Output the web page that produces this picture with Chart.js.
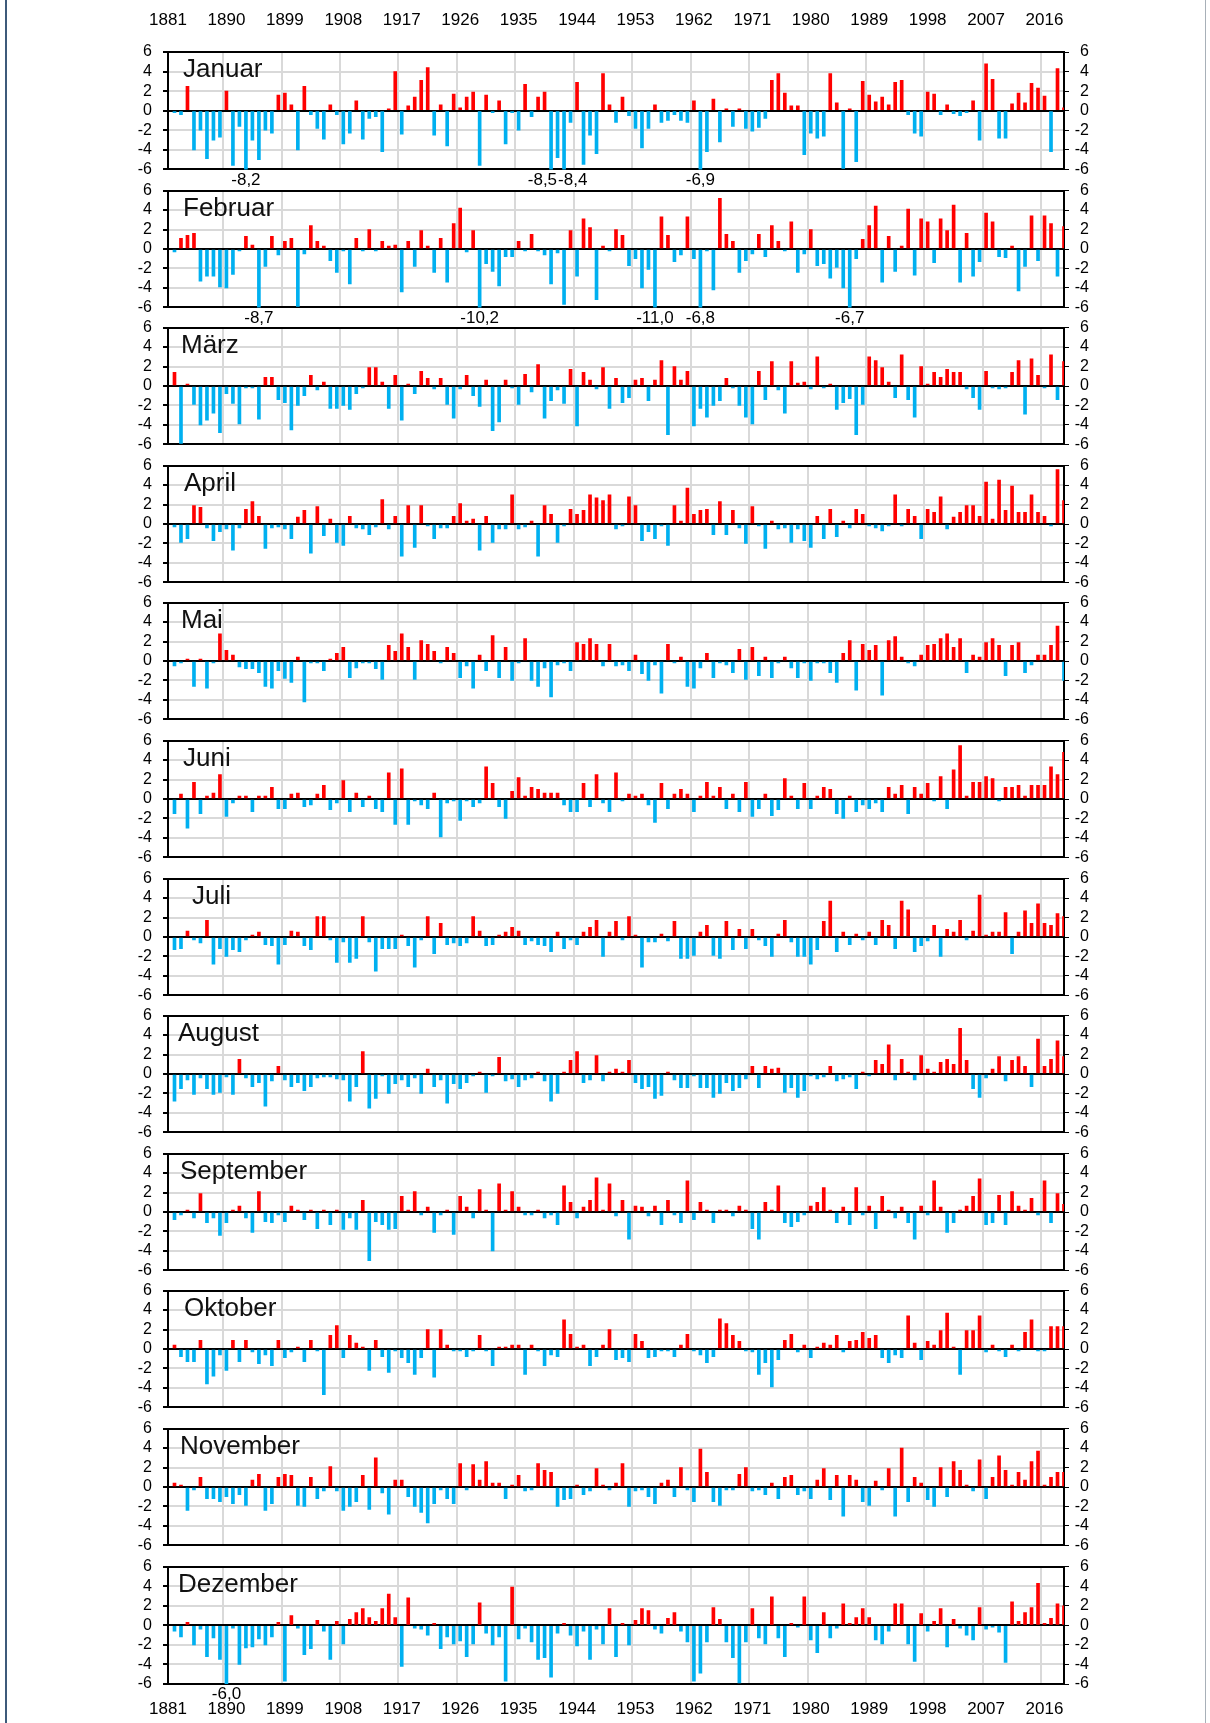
<!DOCTYPE html>
<html lang="de">

<head>
    <meta charset="UTF-8">
    <title>Abweichungen der Monatsmitteltemperatur</title>
    <script src="https://cdn.jsdelivr.net/npm/chart.js"></script>
    <style>
        html, body { margin: 0; padding: 0; background: #fff; }
        #page { position: relative; width: 1210px; height: 1723px; overflow: hidden; background: #fff; }
        #frame { position: absolute; left: 5px; top: 0; width: 1201px; height: 1723px;
                 border-left: 2px solid #3d5a7a; border-right: 1px solid #a8b0b8; box-sizing: border-box; }
        canvas { position: absolute; left: 0; }
    </style>
</head>

<body>
    <div id="page"><div id="frame"></div></div>

    <script>
        // Jahre 1881 - 2019 (Kategorien der x-Achse)
        const years = [];
        for (let y = 1881; y <= 2019; y++) years.push(y);

        // Abweichungen in K, ein Wert je Jahr (1881 ohne Balken)
        const jan = [null, -0.2, -0.4, 2.5, -4.0, -2.0, -4.9, -3.0, -2.7, 2.0, -5.6,
            -1.6, -8.2, -3.0, -5.0, -2.0, -2.3, 1.6, 1.8, 0.6, -4.0,
            2.5, -0.4, -1.8, -2.9, 0.6, -0.4, -3.4, -2.3, 1.0, -2.9,
            -0.8, -0.6, -4.2, 0.2, 4.0, -2.4, 0.5, 1.4, 3.1, 4.4,
            -2.5, 0.6, -3.6, 1.7, 0.3, 1.4, 1.9, -5.6, 1.6, -0.2,
            1.0, -3.4, -0.2, -2.0, 2.7, -0.6, 1.4, 1.9, -8.5, -4.8,
            -8.4, -1.2, 2.9, -5.5, -2.5, -4.4, 3.8, 0.6, -1.2, 1.4,
            -0.5, -1.8, -3.8, -1.8, 0.6, -1.2, -1.0, -0.4, -1.0, -1.2,
            1.0, -6.9, -4.2, 1.2, -3.2, 0.2, -1.6, 0.2, -1.8, -2.1,
            -1.7, -0.8, 3.1, 3.8, 1.8, 0.5, 0.5, -4.5, -2.3, -2.8,
            -2.6, 3.8, 0.8, -5.9, 0.2, -5.2, 3.0, 1.6, 0.9, 1.4,
            0.6, 2.9, 3.1, -0.4, -2.3, -2.6, 1.9, 1.7, -0.4, 0.6,
            -0.3, -0.5, -0.2, 1.0, -3.0, 4.8, 3.2, -2.8, -2.8, 0.7,
            1.8, 0.8, 2.8, 2.3, 1.5, -4.2, 4.3, 0.3];

        const feb = [null, -0.3, 1.1, 1.4, 1.6, -3.3, -2.8, -2.8, -3.9, -4.0, -2.6,
            -0.2, 1.3, 0.4, -8.7, -1.8, 1.3, -0.6, 0.8, 1.1, -5.9,
            -0.5, 2.4, 0.8, 0.3, -1.2, -2.4, -0.2, -3.6, 1.1, -0.2,
            2.0, -0.2, 0.8, 0.3, 0.4, -4.4, 0.8, -1.8, 1.9, 0.3,
            -2.4, 1.1, -3.4, 2.6, 4.2, -0.3, 1.9, -10.2, -1.5, -2.3,
            -3.8, -0.8, -0.8, 0.8, -0.2, 1.5, -0.2, -0.6, -3.6, -0.4,
            -5.7, 1.9, -2.8, 3.1, 2.2, -5.2, 0.3, -0.2, 2.0, 1.4,
            -1.7, -1.0, -4.0, -2.1, -11.0, 3.3, 1.4, -1.3, -0.6, 3.3,
            -1.0, -6.8, -0.2, -4.2, 5.2, 1.5, 0.8, -2.4, -1.2, -0.5,
            1.5, -0.8, 2.4, 0.8, -0.2, 2.8, -2.4, -0.5, 2.0, -1.7,
            -1.5, -3.0, -1.9, -4.0, -6.7, -1.0, 1.0, 2.4, 4.4, -3.4,
            1.3, -2.3, 0.3, 4.1, -2.7, 3.1, 2.8, -1.4, 3.1, 1.9,
            4.5, -3.4, 1.6, -2.8, -1.3, 3.7, 2.8, -0.8, -0.9, 0.3,
            -4.3, -1.8, 3.4, -1.2, 3.4, 2.6, -2.8, 2.3];

        const mar = [null, 1.4, -5.9, 0.2, -1.9, -4.0, -3.5, -2.8, -4.8, -0.8, -1.8,
            -3.9, -0.2, -0.2, -3.4, 0.9, 0.9, -1.4, -1.7, -4.5, -2.0,
            -1.0, 1.1, -0.4, 0.4, -2.3, -2.3, -2.0, -2.4, -0.8, -0.2,
            1.9, 1.9, 0.4, -2.3, 1.1, -3.5, 0.2, -0.8, 1.5, 0.8,
            -0.3, 0.8, -1.9, -3.3, -0.3, 1.1, -1.0, -2.1, 0.6, -4.6,
            -3.7, 0.6, -0.2, -1.9, 1.2, -0.6, 2.2, -3.3, -1.5, -0.4,
            -1.8, 1.7, -4.1, 1.4, 0.6, -0.3, 1.9, -2.3, 0.8, -1.7,
            -1.2, 0.6, 0.8, -1.5, 0.6, 2.6, -5.0, 2.0, 0.6, 1.5,
            -4.1, -2.3, -3.2, -2.0, -1.5, 0.8, -0.2, -2.0, -3.2, -3.9,
            1.5, -1.4, 2.5, -0.4, -2.8, 2.5, 0.3, 0.4, -0.3, 3.0,
            -0.2, 0.2, -2.4, -1.7, -1.3, -5.0, -1.9, 3.0, 2.6, 1.9,
            0.4, -1.2, 3.2, -1.4, -3.2, 2.0, 0.2, 1.4, 0.9, 1.7,
            1.4, 1.4, -0.3, -1.2, -2.4, 1.5, -0.2, -0.3, -0.2, 1.4,
            2.6, -2.9, 2.8, 1.1, -0.2, 3.2, -1.4, 2.5];

        const apr = [null, -0.3, -1.9, -1.5, 1.9, 1.7, -0.4, -1.7, -0.8, -0.5, -2.7,
            -0.4, 1.5, 2.3, 0.8, -2.5, -0.4, -0.3, -0.5, -1.5, 0.7,
            1.4, -3.0, 1.8, -1.2, 0.5, -1.9, -2.2, 0.8, -0.4, -0.5,
            -1.1, -0.3, 2.5, -0.5, 0.8, -3.3, 1.9, -2.4, 1.9, -0.2,
            -1.5, -0.4, -0.4, 0.8, 2.1, 0.3, 0.5, -2.7, 0.8, -1.9,
            -0.5, -0.5, 3.0, -0.5, -0.3, 0.3, -3.3, 1.9, 1.0, -1.9,
            -0.2, 1.5, 1.0, 1.4, 3.0, 2.7, 2.4, 3.0, -0.5, -0.2,
            2.8, 1.9, -1.7, -0.8, -1.5, -0.2, -2.2, 1.9, 0.3, 3.7,
            1.0, 1.4, 1.5, -1.1, 2.3, -1.1, 1.4, -0.4, -2.0, 1.8,
            -0.2, -2.5, 0.3, -0.5, -0.4, -1.9, -0.5, -1.7, -2.4, 0.8,
            -1.5, 1.5, -1.3, 0.3, -0.4, 1.5, 1.0, -0.2, -0.4, -0.7,
            -0.2, 3.0, -0.2, 1.5, 0.8, -1.5, 1.5, 1.2, 2.8, -0.5,
            0.7, 1.2, 1.9, 1.9, 0.8, 4.3, 0.5, 4.5, 1.4, 3.9,
            1.2, 1.2, 3.0, 1.2, 0.8, -0.2, 5.6, 2.4];

        const mai = [null, -0.5, -0.2, 0.2, -2.6, 0.2, -2.8, -0.2, 2.8, 1.1, 0.6,
            -0.6, -0.8, -0.8, -1.2, -2.6, -2.8, -1.0, -1.8, -2.2, 0.4,
            -4.2, -0.2, -0.2, -1.0, 0.2, 0.8, 1.4, -1.7, -0.7, -0.2,
            -0.2, -0.8, -1.9, 1.6, 1.0, 2.8, 1.4, -1.9, 2.1, 1.7,
            1.0, -0.2, 1.4, 0.8, -1.7, -0.5, -2.8, 0.6, -1.0, 2.6,
            -1.7, 1.4, -2.0, -0.2, 2.3, -2.0, -2.6, -0.7, -3.7, -0.4,
            -0.2, -1.0, 1.9, 1.7, 2.3, 1.7, -0.5, 1.7, -0.5, -0.4,
            -1.0, 0.6, -1.3, -2.0, -0.4, -3.3, 1.7, -0.2, 0.4, -2.6,
            -2.8, -0.7, 0.8, -1.7, -0.2, -0.4, -1.2, 1.2, -1.9, 1.4,
            -1.5, 0.4, -1.7, -0.2, 0.4, -0.7, -1.7, -0.2, -2.0, -0.2,
            -0.2, -1.2, -2.2, 0.8, 2.1, -3.0, 1.7, 1.1, 1.6, -3.5,
            2.1, 2.5, 0.4, -0.2, -0.5, 0.6, 1.6, 1.7, 2.3, 2.8,
            1.4, 2.3, -1.2, 0.6, 0.4, 1.9, 2.3, 1.6, -1.5, 1.6,
            1.9, -1.2, -0.4, 0.6, 0.6, 1.6, 3.6, -2.0];

        const jun = [null, -1.5, 0.5, -3.0, 1.7, -1.5, 0.3, 0.6, 2.5, -1.8, -0.4,
            0.3, 0.3, -1.3, 0.3, 0.3, 1.2, -1.0, -1.0, 0.5, 0.6,
            -0.8, -0.6, 0.5, 1.4, -1.1, -0.4, 1.9, -1.3, 0.6, -0.8,
            0.3, -1.0, -1.3, 2.7, -2.6, 3.1, -2.6, -0.2, -0.6, -1.0,
            0.6, -3.9, -0.4, -0.2, -2.2, -0.2, -0.8, -0.4, 3.3, 1.6,
            -0.8, -2.0, 0.8, 2.2, 0.3, 1.2, 1.0, 0.6, 0.6, 0.6,
            -0.6, -1.3, -1.3, 1.6, -0.8, 2.5, -0.4, -1.3, 2.7, -0.2,
            0.5, 0.3, 0.5, -0.6, -2.4, 1.6, -1.0, 0.5, 1.0, 0.5,
            -1.3, 0.3, 1.7, 0.3, 1.2, -1.0, 0.5, -1.3, 1.7, -1.8,
            -1.0, 0.5, -1.7, -1.1, 2.1, 0.3, -1.0, 1.6, -1.0, 0.3,
            1.2, 1.0, -1.5, -2.0, 0.3, -1.3, -0.6, -1.0, -0.4, -1.3,
            1.2, 0.5, 1.4, -1.5, 1.2, 0.5, 1.6, -0.2, 2.3, -1.0,
            3.0, 5.5, 0.3, 1.7, 1.7, 2.3, 2.1, -0.2, 1.2, 1.2,
            1.4, 0.3, 1.4, 1.4, 1.4, 3.3, 2.5, 4.8];

        const jul = [null, -1.3, -1.2, 0.6, -0.3, -0.6, 1.7, -2.8, -1.2, -2.0, -1.3,
            -1.5, -0.3, 0.2, 0.5, -0.8, -0.9, -2.8, -0.8, 0.6, 0.5,
            -0.9, -1.3, 2.1, 2.1, -0.3, -2.6, -0.5, -2.6, -2.2, 2.1,
            -0.5, -3.5, -1.2, -1.2, -1.2, 0.2, -0.9, -3.1, -0.3, 2.1,
            -1.7, 1.4, -0.8, -0.6, -0.9, -0.6, 2.1, 0.6, -0.9, -0.8,
            0.2, 0.5, 1.0, 0.6, -0.8, -0.4, -0.8, -0.9, -1.5, 0.5,
            -1.2, -0.3, -0.8, 0.5, 1.0, 1.7, -2.0, 0.5, 1.6, -0.3,
            2.1, 0.2, -3.1, -0.5, -0.5, 0.3, -0.4, 1.6, -2.2, -2.2,
            -1.9, 0.5, 1.2, -1.9, -2.2, 1.6, -1.3, 0.8, -1.2, 0.8,
            -0.3, -0.9, -2.0, 0.3, 1.7, -0.5, -2.0, -2.0, -2.8, -1.3,
            1.6, 3.7, -1.5, 0.5, -0.8, 0.3, -0.3, 0.5, -0.8, 1.7,
            1.2, -1.2, 3.7, 2.8, -1.5, -0.9, -0.4, 1.2, -2.0, 0.8,
            0.5, 1.7, -0.3, 0.6, 4.3, 0.2, 0.5, 0.5, 2.5, -1.7,
            0.5, 2.7, 1.4, 3.4, 1.4, 1.2, 2.4, 2.1];

        const aug = [null, -2.8, -1.5, -0.6, -2.1, -0.4, -1.5, -2.1, -1.9, -0.3, -2.1,
            1.5, -0.4, -1.3, -0.9, -3.3, -0.7, 0.8, -0.6, -1.3, -0.9,
            -1.7, -1.3, -0.4, -0.3, -0.3, -0.5, -0.6, -2.8, -1.3, 2.3,
            -3.5, -2.5, -0.2, -2.0, -1.0, -0.6, -1.3, -0.4, -2.0, 0.5,
            -1.3, -0.6, -3.0, -1.0, -1.5, -0.9, -0.2, 0.2, -1.9, -0.2,
            1.7, -0.7, -0.5, -1.3, -0.6, -0.4, 0.2, -0.7, -2.8, -2.0,
            0.2, 1.4, 2.3, -0.9, -0.6, 1.9, -0.7, 0.2, 0.5, 0.2,
            1.4, -0.9, -1.5, -1.3, -2.5, -2.2, 0.2, -0.6, -1.4, -1.4,
            -0.2, -1.4, -1.4, -2.4, -2.0, -0.9, -1.7, -1.4, -0.5, 0.8,
            -1.4, 0.8, 0.5, 0.6, -1.9, -1.4, -2.4, -1.7, -0.2, -0.5,
            -0.3, 0.8, -0.7, -0.5, -0.3, -1.5, 0.2, -0.2, 1.4, 1.0,
            3.0, -0.6, 1.5, 0.2, -0.6, 1.9, 0.5, 0.2, 1.2, 1.5,
            1.0, 4.7, 1.4, -1.5, -2.4, -0.4, 0.5, 1.8, -0.7, 1.4,
            1.8, 0.8, -1.3, 3.6, 0.8, 1.5, 3.4, 1.8];

        const sep = [null, -0.8, -0.3, 0.2, -0.6, 1.9, -1.1, -0.6, -2.4, -1.1, 0.2,
            0.6, -0.6, -2.1, 2.1, -1.0, -1.1, -0.3, -1.0, 0.6, 0.2,
            -0.8, 0.2, -1.7, 0.2, -1.3, 0.2, -1.8, -0.6, -1.8, 1.2,
            -5.0, -1.0, -1.3, -1.8, -1.7, 1.6, 0.2, 2.1, -0.3, 0.5,
            -2.1, -0.3, 0.2, -2.3, 1.6, 0.5, -0.6, 2.3, 0.2, -4.0,
            2.9, 0.2, 2.1, 0.5, -0.3, -0.3, 0.2, -0.6, -0.3, -1.3,
            2.7, 1.0, -0.6, 0.5, 1.2, 3.5, 0.2, 2.9, -0.4, 1.2,
            -2.8, 0.6, 0.5, -0.4, 0.6, -1.3, 1.2, -0.3, -1.1, 3.2,
            -0.8, 1.0, 0.2, -1.1, 0.2, 0.2, -0.4, 0.6, 0.2, -1.7,
            -2.8, 1.0, 0.2, 2.7, -1.1, -1.5, -1.0, -0.3, 0.6, 1.0,
            2.5, 0.2, -1.1, 0.5, -1.3, 2.5, -0.3, 0.6, -1.7, 1.6,
            0.2, -0.6, 0.5, -1.1, -2.8, 0.6, -0.3, 3.2, 0.5, -2.1,
            -1.1, 0.2, 0.6, 1.6, 3.4, -1.3, -1.1, 1.7, -1.3, 2.1,
            0.6, 0.2, 1.4, -0.3, 3.2, -1.1, 1.9, 0.8];

        const okt = [null, 0.4, -0.8, -1.3, -1.3, 0.9, -3.6, -2.8, -0.6, -2.2, 0.9,
            -1.3, 0.9, -0.3, -1.5, -0.6, -1.7, 0.9, -0.9, -0.3, 0.2,
            -1.3, 0.9, -0.2, -4.7, 1.4, 2.4, -0.9, 1.4, 0.6, 0.2,
            -2.2, 0.9, -0.8, -2.4, -0.2, -0.9, -1.4, -2.6, -0.9, 2.0,
            -2.9, 2.0, 0.4, -0.2, -0.2, -0.8, -0.2, 1.4, -0.2, -1.7,
            0.2, 0.2, 0.4, 0.4, -2.6, 0.4, -0.2, -1.7, -0.6, -0.8,
            3.0, 1.5, 0.2, 0.4, -1.7, -0.8, 0.4, 2.0, -1.1, -0.9,
            -1.3, 1.5, 0.8, -0.9, -0.8, -0.2, -0.2, -0.8, 0.4, 1.5,
            -0.2, -0.6, -1.4, -0.8, 3.1, 2.6, 1.4, 0.8, -0.2, -0.3,
            -2.6, -1.4, -3.9, -1.1, 0.9, 1.5, -0.3, 0.4, -0.9, 0.2,
            0.6, 0.4, 1.4, -0.3, 0.8, 0.9, 1.7, 1.1, 1.4, -0.9,
            -1.4, -0.6, -0.9, 3.4, 0.6, -1.1, 0.8, 0.4, 1.9, 3.7,
            0.2, -2.6, 1.9, 1.9, 3.4, -0.3, 0.4, -0.2, -0.8, 0.4,
            -0.2, 1.7, 3.0, -0.2, -0.2, 2.3, 2.3, 2.3];

        const nov = [null, 0.4, 0.2, -2.4, -0.3, 1.0, -1.2, -1.2, -1.5, -1.0, -1.7,
            -0.8, -1.9, 0.7, 1.3, -2.4, -1.7, 1.0, 1.3, 1.2, -1.9,
            -2.0, 1.0, -1.2, -0.4, 2.1, -0.4, -2.4, -2.0, -1.5, 1.2,
            -2.3, 3.0, -0.6, -2.8, 0.7, 0.7, -1.0, -2.0, -2.6, -3.7,
            -1.7, -0.3, -1.2, -1.7, 2.4, -0.3, 2.3, 0.7, 2.6, 0.4,
            0.4, -1.2, 0.2, 1.2, -0.4, -0.3, 2.4, 1.7, 1.5, -2.0,
            -1.3, -1.2, 0.2, -0.8, -0.4, 1.9, 0.2, -0.3, 0.4, 2.4,
            -2.0, -0.4, -0.3, -1.0, -1.7, 0.4, 0.7, -1.0, 2.0, -0.3,
            -1.5, 3.9, 1.5, -1.5, -1.9, -0.3, -0.3, 1.3, 2.0, -0.4,
            -0.3, -0.8, 0.4, -1.2, 1.0, 1.2, -0.8, -0.4, -1.2, 0.7,
            1.9, -1.3, 1.2, -3.0, 1.2, 0.7, -1.5, -1.9, 0.6, -0.3,
            1.9, -3.0, 4.0, -1.5, 1.0, 0.4, -1.3, -2.0, 2.0, -1.0,
            2.6, 1.7, 0.2, -0.4, 2.8, -1.2, 1.0, 3.2, 1.7, 0.2,
            1.5, 0.7, 2.6, 3.7, 0.2, 1.0, 1.5, 1.5];

        const dez = [null, -0.6, -1.2, 0.3, -2.0, -0.4, -3.2, -1.3, -3.5, -6.0, -0.3,
            -4.0, -2.3, -2.2, -1.4, -2.0, -1.2, 0.3, -5.7, 1.0, -0.3,
            -3.0, -2.4, 0.5, -0.6, -3.5, 0.4, -1.9, 0.6, 1.3, 1.7,
            0.8, 0.4, 1.7, 3.2, 0.8, -4.2, 2.8, -0.3, -0.4, -1.0,
            0.2, -2.4, -1.2, -1.9, -1.6, -3.2, -1.9, 2.3, -0.8, -2.0,
            -1.2, -5.7, 3.9, -1.4, -0.3, -1.7, -3.5, -3.3, -5.3, -0.8,
            0.2, -1.0, -2.1, -0.6, -3.5, -0.4, -1.9, 1.7, -3.2, 0.2,
            -2.0, 0.5, 1.7, 1.5, -0.4, -0.8, 0.7, 1.3, -0.6, -1.7,
            -5.7, -4.9, -1.7, 1.8, 0.6, -1.7, -3.3, -5.9, -1.7, 1.7,
            -1.3, -1.9, 2.9, -1.3, -3.2, 0.2, -0.2, 2.9, -1.5, -2.8,
            1.3, -1.3, -0.3, 2.2, 0.2, 0.8, 1.7, 0.8, -1.5, -1.9,
            -0.6, 2.2, 2.2, -1.9, -3.7, 1.2, -0.6, 0.4, 1.7, -2.2,
            0.6, -0.3, -1.0, -1.5, 1.8, -0.4, -0.2, -0.7, -3.8, 2.4,
            0.4, 1.3, 1.8, 4.3, 0.2, 0.7, 2.2, 2.0];

        const monthNames = ['Januar', 'Februar', 'März', 'April', 'Mai', 'Juni', 'Juli',
            'August', 'September', 'Oktober', 'November', 'Dezember'];
        const monthData = [jan, feb, mar, apr, mai, jun, jul, aug, sep, okt, nov, dez];

        // Lage der Diagramme auf der Seite
        const nameX = [183, 183, 181, 184, 181, 183, 192, 178, 180, 184, 180, 178];
        const PLOT_TOP = 52, PLOT_STEP = 137.6, PLOT_H = 118;
        const PLOT_LEFT = 168, PLOT_RIGHT = 1064, PAGE_W = 1210;
        const RIGHT_LABEL_END = 1089;   // rechte Kante der Zahlen rechts

        const RED = '#ff0000';
        const BLUE = '#00b0f0';
        const GRID = '#d9d9d9';
        const FONT = '"Liberation Sans", Arial, sans-serif';

        // Monatsname und Beschriftung der abgeschnittenen Balken (< -6)
        const panelText = {
            id: 'panelText',
            afterDatasetsDraw(chart, args, opts) {
                const { ctx, chartArea } = chart;
                ctx.save();
                ctx.fillStyle = '#111';
                ctx.font = '26px ' + FONT;
                ctx.textAlign = 'left';
                ctx.textBaseline = 'alphabetic';
                ctx.fillText(opts.title, opts.titleX, chartArea.top + 25);

                const meta = chart.getDatasetMeta(0);
                const values = chart.data.datasets[0].data;
                ctx.font = '17px ' + FONT;
                ctx.fillStyle = '#000';
                const items = [];
                values.forEach((v, i) => {
                    if (v !== null && v <= -6) {
                        const text = v.toFixed(1).replace('.', ',');
                        items.push({ x: meta.data[i].x, text: text, w: ctx.measureText(text).width });
                    }
                });
                // nebeneinander liegende Werte auseinanderschieben
                for (let i = 1; i < items.length; i++) {
                    const a = items[i - 1], b = items[i];
                    const overlap = (a.w + b.w) / 2 + 1 - (b.x - a.x);
                    if (overlap > 0) { a.x -= overlap / 2; b.x += overlap / 2; }
                }
                ctx.textAlign = 'center';
                ctx.textBaseline = 'top';
                items.forEach(it => ctx.fillText(it.text, it.x, chartArea.bottom + 2));
                ctx.restore();
            }
        };

        const page = document.getElementById('page');

        monthData.forEach((values, k) => {
            const first = k === 0;
            const last = k === monthData.length - 1;
            const plotTop = Math.round(PLOT_TOP + PLOT_STEP * k);
            const above = first ? PLOT_TOP : 20;
            const below = last ? 40 : 20;

            const canvas = document.createElement('canvas');
            canvas.width = PAGE_W;
            canvas.height = above + PLOT_H + below;
            canvas.style.top = (plotTop - above) + 'px';
            canvas.style.width = PAGE_W + 'px';
            canvas.style.height = canvas.height + 'px';
            page.appendChild(canvas);

            const yearTicks = {
                autoSkip: false,
                maxRotation: 0,
                color: '#000',
                font: { family: FONT, size: 17 },
                callback: (v, i) => (i % 9 === 0 ? String(years[i]) : '')
            };

            const valueTicks = {
                stepSize: 2,
                autoSkip: false,
                color: '#000',
                font: { family: FONT, size: 16 }
            };

            const scales = {
                x: {
                    type: 'category',
                    offset: false,
                    position: 'bottom',
                    grid: {
                        color: c => (c.index % 9 === 0 ? GRID : 'rgba(0,0,0,0)'),
                        lineWidth: 2,
                        drawTicks: false
                    },
                    border: { display: true, color: '#000', width: 2 },
                    ticks: Object.assign({}, yearTicks, { display: last, padding: 15 }),
                    afterFit: s => { s.height = below; }
                },
                y: {
                    position: 'left',
                    min: -6,
                    max: 6,
                    grid: {
                        color: c => {
                            const v = c.tick ? c.tick.value : null;
                            return (v === 0 || v === 6 || v === -6) ? '#000' : GRID;
                        },
                        lineWidth: 2,
                        tickLength: 5,
                        tickColor: '#000'
                    },
                    border: { display: true, color: '#000', width: 2 },
                    ticks: Object.assign({}, valueTicks, { padding: 11 }),
                    afterFit: s => { s.width = PLOT_LEFT; }
                },
                y2: {
                    position: 'right',
                    min: -6,
                    max: 6,
                    grid: { drawOnChartArea: false, tickLength: 5, tickColor: '#000' },
                    border: { display: true, color: '#000', width: 2 },
                    // rechts sind die Zahlen rechtsbündig
                    ticks: Object.assign({}, valueTicks, { padding: 2, crossAlign: 'far' }),
                    afterFit: s => { s.width = RIGHT_LABEL_END - PLOT_RIGHT; }
                }
            };

            // Jahreszahlen oben nur über dem ersten Diagramm
            if (first) {
                scales.xTop = {
                    type: 'category',
                    offset: false,
                    position: 'top',
                    grid: { display: false, drawTicks: false },
                    border: { display: false },
                    ticks: Object.assign({}, yearTicks, { padding: 21 }),
                    afterFit: s => { s.height = PLOT_TOP; }
                };
            }

            new Chart(canvas.getContext('2d'), {
                type: 'bar',
                data: {
                    labels: years,
                    datasets: [{
                        data: values,
                        backgroundColor: c => (c.raw >= 0 ? RED : BLUE),
                        barThickness: 3,
                        borderWidth: 0,
                        clip: 0
                    }]
                },
                options: {
                    responsive: false,
                    animation: false,
                    devicePixelRatio: 1,
                    layout: {
                        padding: { top: first ? 0 : 20, left: 0, right: PAGE_W - RIGHT_LABEL_END, bottom: 0 }
                    },
                    plugins: {
                        legend: { display: false },
                        tooltip: { enabled: false },
                        panelText: { title: monthNames[k], titleX: nameX[k] }
                    },
                    scales: scales
                },
                plugins: [panelText]
            });
        });
    </script>
</body>

</html>
